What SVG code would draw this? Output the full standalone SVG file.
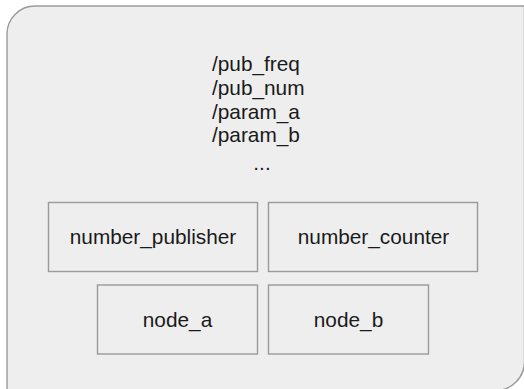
<svg xmlns="http://www.w3.org/2000/svg" width="524" height="389" viewBox="0 0 524 389">
<style>
.bg{fill:#ffffff}
.frame{fill:#eeeeee;stroke:#9a9a9a;stroke-width:1.4}
.box{fill:#eeeeee;stroke:#9a9a9a;stroke-width:1.4}
.t{font-family:"Liberation Sans",Arial,sans-serif;font-size:20.8px;fill:#1a1a1a}
.c{text-anchor:middle}
</style>
<rect class="bg" x="0" y="0" width="524" height="389"/>
<g id="namespace">
<path class="frame" d="M7,390.5 L7,34 A28,28 0 0 1 35,6 L524.5,6 L524.5,361.5 A29,29 0 0 1 495.5,390.5 Z"/>
<text class="t" x="212" y="71">/pub_freq</text>
<text class="t" x="212" y="94.5">/pub_num</text>
<text class="t" x="212" y="118.5">/param_a</text>
<text class="t" x="212" y="142">/param_b</text>
<text class="t c" x="262" y="170">...</text>
</g>
<g id="connectors"></g>
<g id="number_publisher">
<rect class="box" x="48.5" y="202.5" width="209" height="69"/>
<text class="t c" x="153" y="244">number_publisher</text>
</g>
<g id="number_counter">
<rect class="box" x="268.5" y="202.5" width="209" height="69"/>
<text class="t c" x="373.5" y="244">number_counter</text>
</g>
<g id="node_a">
<rect class="box" x="97.5" y="285" width="160" height="69"/>
<text class="t c" x="177.5" y="327">node_a</text>
</g>
<g id="node_b">
<rect class="box" x="268.5" y="285" width="160" height="69"/>
<text class="t c" x="348.5" y="327">node_b</text>
</g>
</svg>
